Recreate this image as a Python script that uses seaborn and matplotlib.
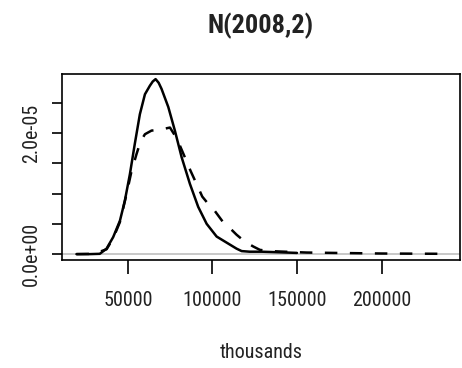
import pandas as pd
import seaborn as sns
import matplotlib.pyplot as plt
from matplotlib import font_manager

# Valores (densidades estimadas)
x_solid = [19600, 27500, 33400, 37400, 41300, 45300, 48200, 51200, 54100, 57100,
           60100, 63000, 64700, 66400, 68200, 69900, 73900, 77800, 81800, 86700,
           91600, 96600, 102500, 108400, 114300, 117300, 122000, 129100, 140000, 150000]
y_solid = [0.0, 0.0, 0.05e-6, 0.9e-6, 2.8e-6, 5.5e-6, 8.8e-6, 13.2e-6, 18.2e-6, 23.1e-6,
           26.4e-6, 27.8e-6, 28.5e-6, 28.9e-6, 28.3e-6, 27.3e-6, 24.3e-6, 20.4e-6, 16.0e-6, 11.6e-6,
           7.8e-6, 5.0e-6, 2.9e-6, 1.9e-6, 0.9e-6, 0.5e-6, 0.4e-6, 0.4e-6, 0.3e-6, 0.2e-6]

x_dash = [19600, 30000, 37400, 41300, 45300, 49200, 52000, 55100, 57500, 60100,
          64000, 67900, 71500, 74900, 77800, 80800, 83700, 87000, 90600, 94000,
          97500, 101500, 106000, 111400, 114300, 119000, 124200, 128100, 134000, 139900,
          155700, 171500, 200000, 237900]
y_dash = [0.0, 0.05e-6, 0.8e-6, 2.6e-6, 5.3e-6, 9.9e-6, 13.5e-6, 16.5e-6, 18.6e-6, 19.8e-6,
          20.4e-6, 20.5e-6, 20.7e-6, 20.9e-6, 19.6e-6, 17.9e-6, 16.0e-6, 13.8e-6, 11.6e-6, 9.5e-6,
          8.3e-6, 7.1e-6, 5.4e-6, 4.0e-6, 3.2e-6, 2.1e-6, 1.25e-6, 0.7e-6, 0.5e-6, 0.43e-6,
          0.26e-6, 0.2e-6, 0.1e-6, 0.05e-6]

x_ticks = [50000, 100000, 150000, 200000]
y_ticks = [0, 5e-6, 1e-5, 1.5e-5, 2e-5, 2.5e-5]
y_labels = ['0.0e+00', '', '', '', '2.0e-05', '']

sns.set_style("ticks")
names = {f.name for f in font_manager.fontManager.ttflist}
narrow = [n for n in ['Liberation Sans Narrow', 'Arial Narrow', 'Roboto Condensed',
                      'Open Sans Condensed'] if n in names]
if narrow:
    plt.rcParams['font.family'] = [narrow[0], 'DejaVu Sans']
    fs_tick, fs_title = 14.5, 19
else:
    plt.rcParams['font.family'] = ['Liberation Sans', 'DejaVu Sans']
    fs_tick, fs_title = 13, 17

df_solid = pd.DataFrame({'x': x_solid, 'y': y_solid})
df_dash = pd.DataFrame({'x': x_dash, 'y': y_dash})

fig = plt.figure(figsize=(4.62, 3.68), dpi=100)
ax = fig.add_axes([0.134, 0.293, 0.862, 0.506])

ax.axhline(0, color='#c4c4c4', lw=1.3, zorder=1)
sns.lineplot(data=df_solid, x='x', y='y', ax=ax, color='black', lw=1.8, zorder=3,
             solid_joinstyle='round', solid_capstyle='round')
sns.lineplot(data=df_dash, x='x', y='y', ax=ax, color='black', lw=1.8,
             linestyle=(0, (5, 5)), zorder=2, dash_joinstyle='round')

ax.set_xlim(11000, 246500)
ax.set_ylim(-1.0e-6, 2.975e-5)
ax.set_xticks(x_ticks)
ax.set_xticklabels([str(v) for v in x_ticks])
ax.set_yticks(y_ticks)
ax.set_yticklabels(y_labels, rotation=90, va='center')

for s in ax.spines.values():
    s.set_visible(True)
    s.set_linewidth(1.2)
    s.set_color('black')

ax.tick_params(axis='x', length=10, width=1.2, labelsize=fs_tick, pad=12, colors='black', labelcolor='#222222')
ax.tick_params(axis='y', length=7, width=1.2, labelsize=fs_tick, pad=8, colors='black', labelcolor='#222222')

ax.set_xlabel('thousands', fontsize=fs_tick, labelpad=24, color='#222222')
ax.set_ylabel('')
fig.suptitle('N(2008,2)', x=0.565, y=0.965, fontsize=fs_title, fontweight='bold', color='#222222')

fig.savefig('out.png', dpi=100)
